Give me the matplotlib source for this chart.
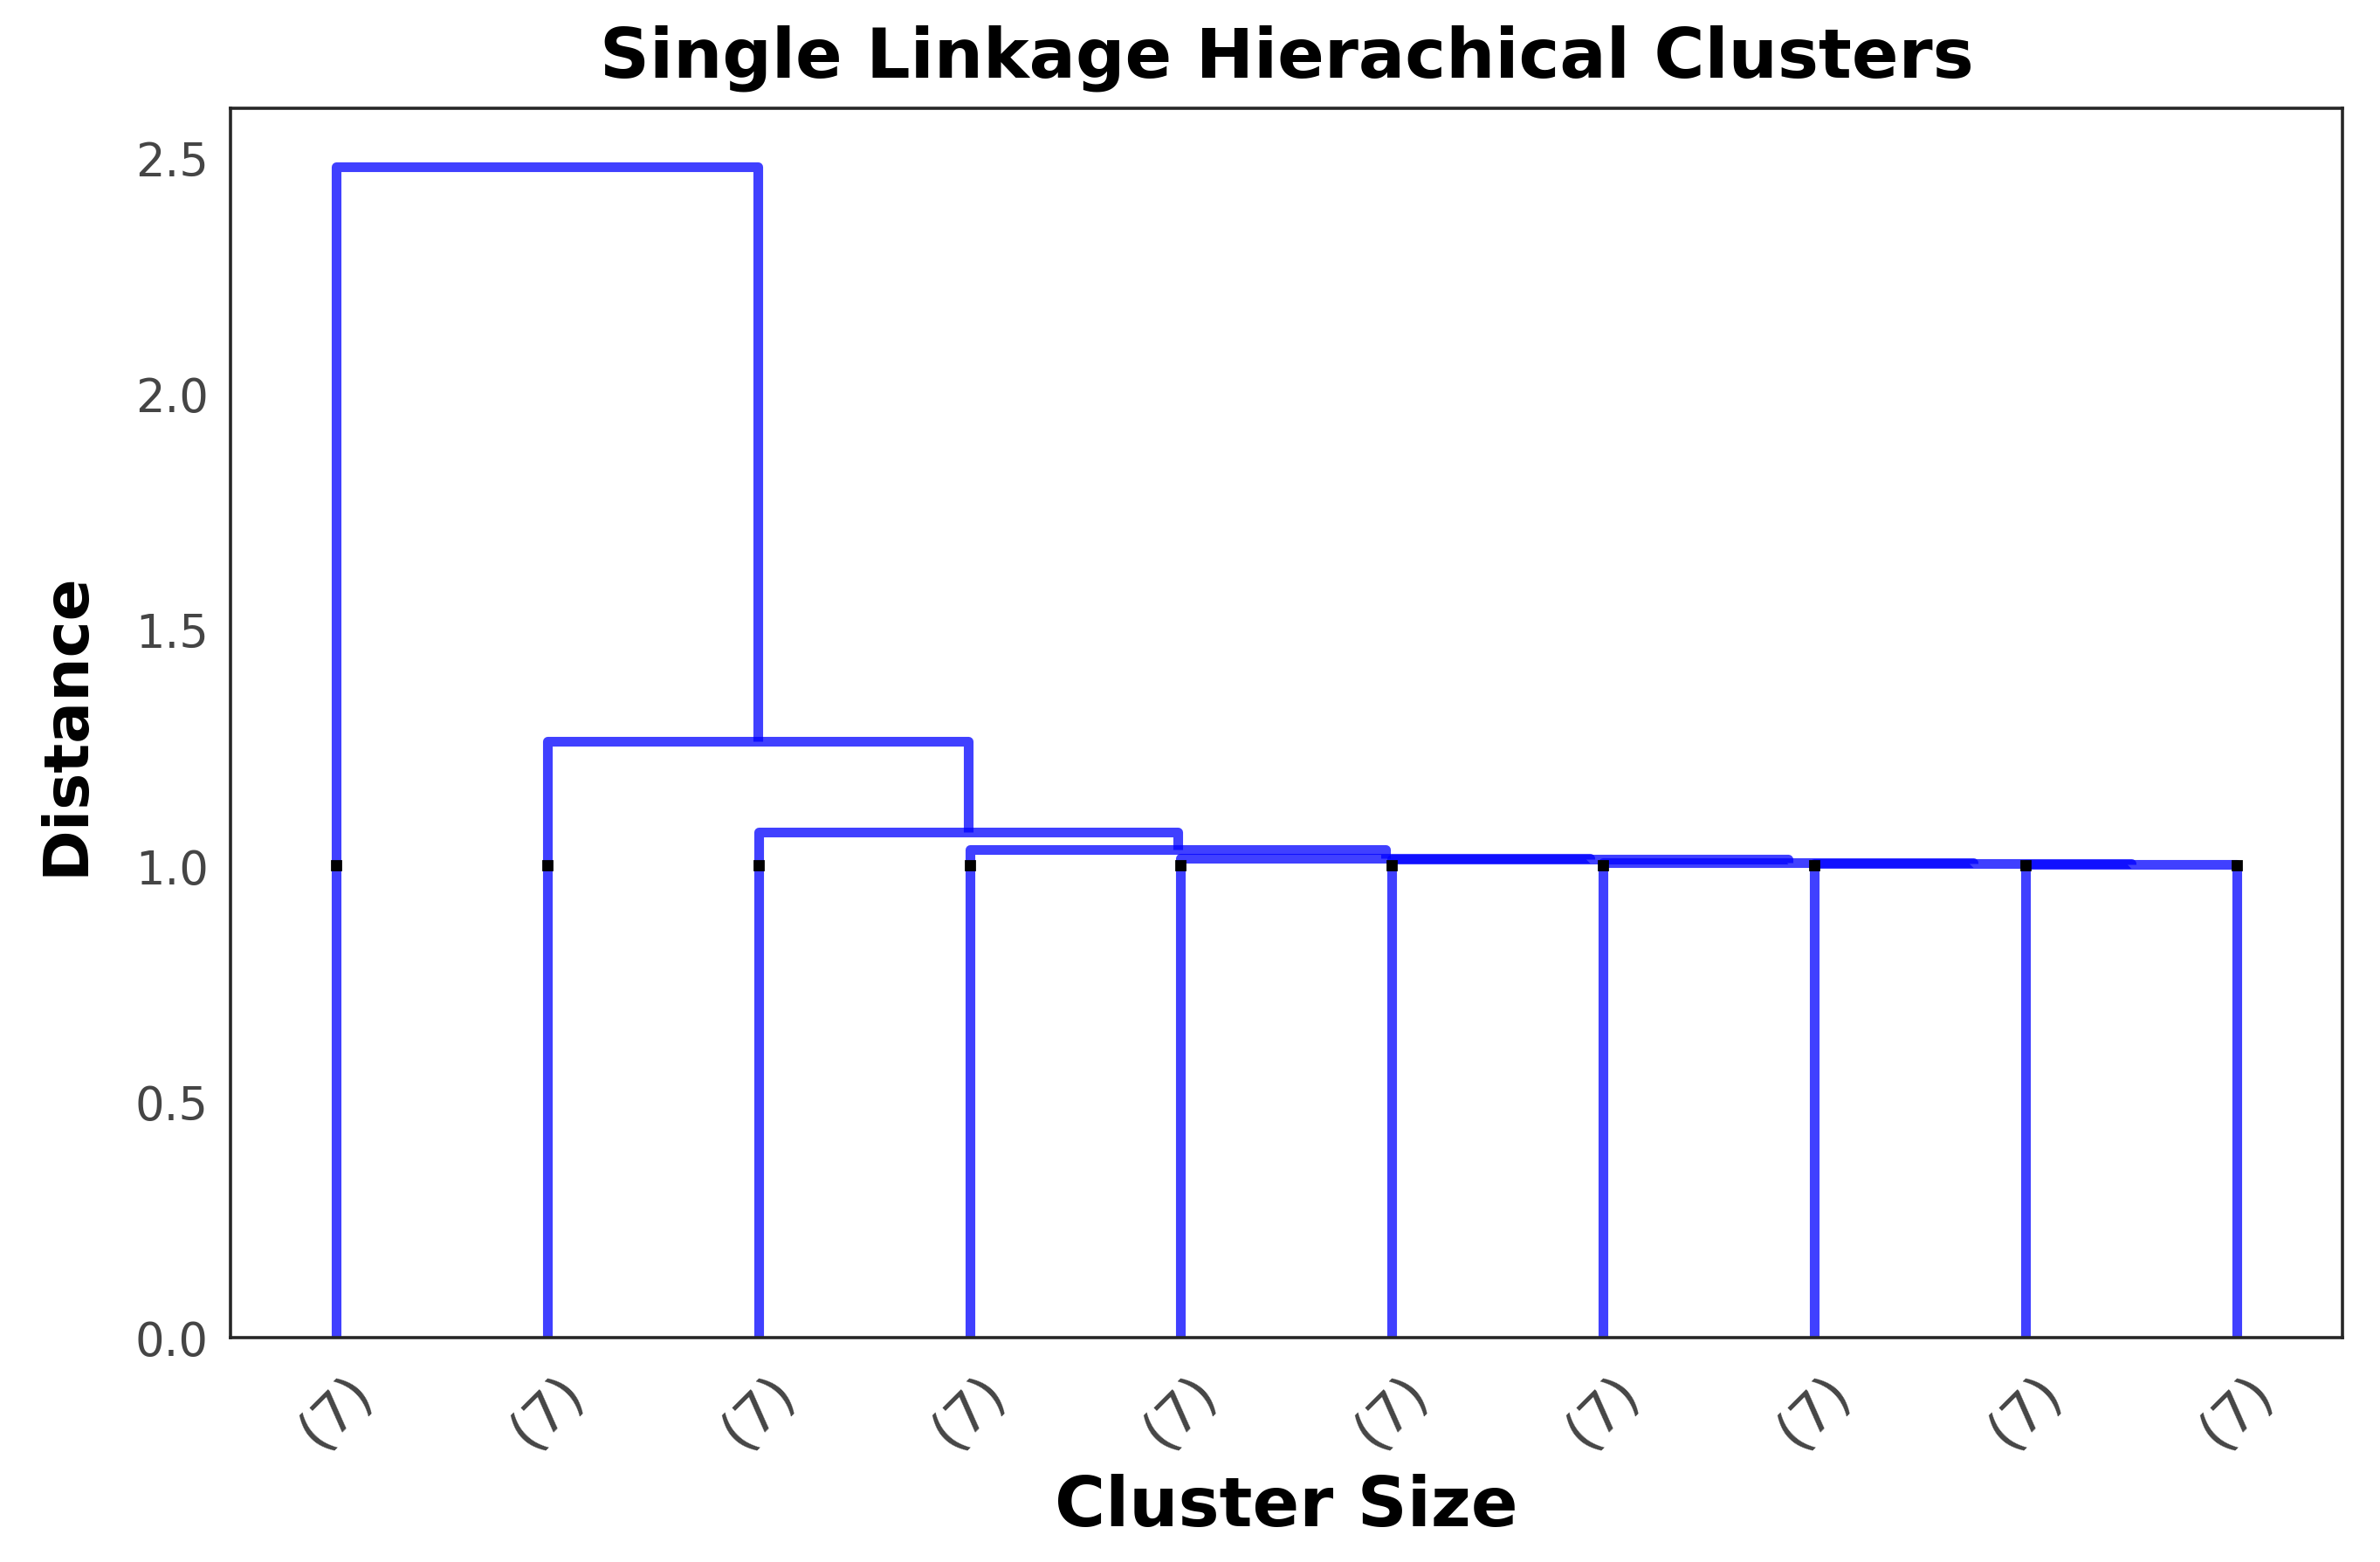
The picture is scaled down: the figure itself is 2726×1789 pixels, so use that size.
import matplotlib
matplotlib.use("Agg")
import matplotlib.pyplot as plt

# truncated dendrogram: 10 shown clusters, each of size 7
leaf_labels = ['(7)'] * 10
# merges in linkage order; node ids >= 10 refer to earlier merges (10 + row)
merge_left = [8, 7, 6, 5, 4, 3, 2, 1, 0]
merge_right = [9, 10, 11, 12, 13, 14, 15, 16, 17]
merge_height = [1.003, 1.004, 1.006, 1.013, 1.015, 1.033, 1.071, 1.263, 2.48]
# heights of the contracted merges inside each shown cluster
contracted_height = [1.0] * 10

n = len(leaf_labels)

# leaf order from a left-first walk of the tree
def walk(node):
    if node < n:
        return [node]
    k = node - n
    return walk(merge_left[k]) + walk(merge_right[k])

order = walk(n + len(merge_left) - 1)
xpos = {}
hpos = {}
for i, leaf in enumerate(order):
    xpos[leaf] = 5 + 10 * i
    hpos[leaf] = 0.0

fig = plt.figure(figsize=(13.63, 8.95), dpi=200)
ax = fig.add_axes([0.0968, 0.1436, 0.8874, 0.7866])

for k in range(len(merge_left)):
    a, b, h = merge_left[k], merge_right[k], merge_height[k]
    xa, xb = xpos[a], xpos[b]
    ax.plot([xa, xa, xb, xb], [hpos[a], h, h, hpos[b]],
            color='blue', alpha=0.75, lw=4, solid_capstyle='butt')
    xpos[n + k] = (xa + xb) / 2
    hpos[n + k] = h

for leaf in range(n):
    ax.plot(xpos[leaf], contracted_height[leaf], 'ks', markersize=3.5)

ax.set_xlim(0, 10 * n)
ax.set_ylim(0, max(merge_height) * 1.05)
ax.set_xticks([xpos[l] for l in order])
ax.set_xticklabels([leaf_labels[l] for l in order], rotation=45)
ax.set_yticks([0.0, 0.5, 1.0, 1.5, 2.0, 2.5])
ax.set_yticklabels(['0.0', '0.5', '1.0', '1.5', '2.0', '2.5'])
ax.tick_params(length=0, labelsize=19, labelcolor='0.27', pad=9)
ax.tick_params(axis='x', labelsize=23, pad=11)
for s in ax.spines.values():
    s.set_color('0.15')
    s.set_linewidth(1.3)

ax.set_title('Single Linkage Hierachical Clusters', fontsize=28.5,
             fontweight='bold', pad=13)
ax.set_xlabel('Cluster Size', fontsize=28.5, fontweight='bold', labelpad=6)
ax.set_ylabel('Distance', fontsize=25.5, fontweight='bold', labelpad=16)

fig.savefig('out.png', dpi=200, facecolor='white')
